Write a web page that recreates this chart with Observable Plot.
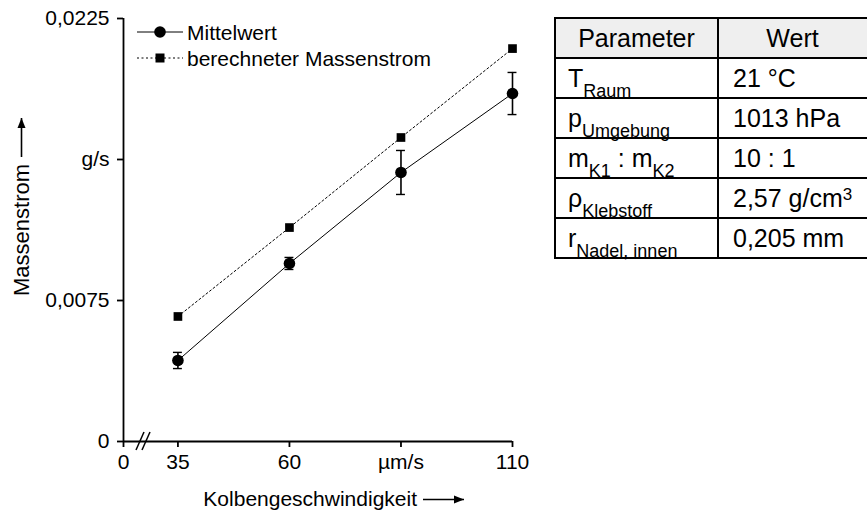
<!DOCTYPE html>
<html>
<head>
<meta charset="utf-8">
<script src="https://cdn.jsdelivr.net/npm/d3@7"></script>
<script src="https://cdn.jsdelivr.net/npm/@observablehq/plot@0.6"></script>
<style>
  html, body { margin: 0; padding: 0; background: #fff; }
  body { width: 867px; height: 515px; overflow: hidden; position: relative;
         font-family: "Liberation Sans", Arial, Helvetica, sans-serif; }
  #chart { position: absolute; left: 0; top: 0; }
  #params { position: absolute; left: 554px; top: 17px; border-collapse: collapse; width: 326px;
            font-size: 25px; color: #000; table-layout: fixed; }
  #params td, #params th { border: 2px solid #000; height: 38px; padding: 0 0 0 12px;
            font-weight: normal; text-align: left; white-space: nowrap; line-height: 38px; overflow: visible; }
  #params th { background: #efefef; text-align: center; padding: 0; }
  #params th.w { padding-right: 14px; }
  #params td.v { padding-left: 14px; }
  #params sub { font-size: 18px; position: relative; top: 4px; vertical-align: sub; line-height: 0; }
  #params sup { font-size: 17px; vertical-align: super; line-height: 0; position: relative; top: 2px; }
</style>
</head>
<body>
<div id="chart"></div>
<script>
// ---- data ----
const speeds    = [35, 60, 85, 110];                      // µm/s
const meanFlow  = [0.00431, 0.00947, 0.01431, 0.01851];   // g/s (Mittelwert)
const meanErr   = [0.00043, 0.00032, 0.00117, 0.00112];   // g/s (error)
const calcFlow  = [0.00665, 0.01138, 0.01617, 0.0209];    // g/s (berechneter Massenstrom)

const xTicks      = [22.8, 35, 60, 85, 110];
const xTickLabels = ["0", "35", "60", "µm/s", "110"];
const yTicks      = [0, 0.0075, 0.015, 0.0225];
const yTickLabels = ["0", "0,0075", "g/s", "0,0225"];

const seriesNames = ["Mittelwert", "berechneter Massenstrom"];
const xLabel = "Kolbengeschwindigkeit";
const yLabel = "Massenstrom";

const paramHeaders = ["Parameter", "Wert"];
const paramNames = ["T<sub>Raum</sub>", "p<sub>Umgebung</sub>", "m<sub>K1</sub> : m<sub>K2</sub>",
                    "ρ<sub>Klebstoff</sub>", "r<sub>Nadel, innen</sub>"];
const paramValues = ["21 °C", "1013 hPa", "10 : 1", "2,57 g/cm<sup>3</sup>", "0,205 mm"];

// ---- rows ----
const mean = speeds.map((x, i) => ({x, y: meanFlow[i], lo: meanFlow[i] - meanErr[i], hi: meanFlow[i] + meanErr[i]}));
const calc = speeds.map((x, i) => ({x, y: calcFlow[i]}));

const xMin = xTicks[0], xMax = xTicks[xTicks.length - 1];
const yMax = yTicks[yTicks.length - 1];
const axisW = 1.8;
const FS = 21;

const plot = Plot.plot({
  width: 540,
  height: 515,
  marginLeft: 123,
  marginRight: 28,
  marginTop: 18,
  marginBottom: 74,
  style: {fontFamily: "'Liberation Sans', Arial, sans-serif", fontSize: FS + "px", color: "#000", background: "#fff"},
  x: {domain: [xMin, xMax]},
  y: {domain: [0, yMax]},
  marks: [
    Plot.axisX({ticks: xTicks, tickFormat: (d, i) => xTickLabels[i], tickSize: 6, tickPadding: 7,
                strokeWidth: axisW, fontSize: FS, label: null}),
    Plot.axisY({ticks: yTicks, tickFormat: (d, i) => yTickLabels[i], tickSize: 6, tickPadding: 8,
                strokeWidth: axisW, fontSize: FS, label: null}),
    Plot.ruleX([xMin], {y1: 0, y2: yMax, stroke: "#000", strokeWidth: axisW}),
    Plot.ruleY([0], {x1: xMin, x2: xMax, stroke: "#000", strokeWidth: axisW}),
    // calculated
    Plot.line(calc, {x: "x", y: "y", stroke: "#000", strokeWidth: 1, strokeDasharray: "2,2.5"}),
    Plot.dot(calc, {x: "x", y: "y", symbol: "square", r: 4.9, fill: "#000", stroke: "none"}),
    // mean with error bars
    Plot.ruleX(mean, {x: "x", y1: "lo", y2: "hi", stroke: "#000", strokeWidth: 1.6}),
    Plot.ruleY(mean, {y: "lo", x1: d => d.x - 1, x2: d => d.x + 1, stroke: "#000", strokeWidth: 1.4}),
    Plot.ruleY(mean, {y: "hi", x1: d => d.x - 1, x2: d => d.x + 1, stroke: "#000", strokeWidth: 1.4}),
    Plot.line(mean, {x: "x", y: "y", stroke: "#000", strokeWidth: 1}),
    Plot.dot(mean, {x: "x", y: "y", r: 5.8, fill: "#000", stroke: "none"})
  ]
});

document.getElementById("chart").appendChild(plot);

// ---- decorations: axis break, axis titles with arrows, legend ----
const sx = plot.scale("x"), sy = plot.scale("y");
const svg = d3.select(plot);
const X = v => sx.apply(v), Y = v => sy.apply(v);
const y0 = Y(0);

// axis break "//"
[X(xMin) + 17, X(xMin) + 23].forEach(cx => {
  svg.append("line").attr("x1", cx - 4).attr("y1", y0 + 9).attr("x2", cx + 4).attr("y2", y0 - 9)
    .attr("stroke", "#000").attr("stroke-width", 1.5);
});

const defs = svg.append("defs");
defs.append("marker").attr("id", "ah").attr("viewBox", "0 0 10 10").attr("refX", 10).attr("refY", 5)
  .attr("markerWidth", 10).attr("markerHeight", 10).attr("markerUnits", "userSpaceOnUse")
  .attr("orient", "auto")
  .append("path").attr("d", "M0,1 L10,5 L0,9 Z").attr("fill", "#000");

// x title
svg.append("text").attr("x", 417).attr("y", 506).attr("text-anchor", "end")
  .attr("font-size", FS).attr("fill", "#000").text(xLabel);
svg.append("line").attr("x1", 423).attr("y1", 499.5).attr("x2", 464).attr("y2", 499.5)
  .attr("stroke", "#000").attr("stroke-width", 1.6).attr("marker-end", "url(#ah)");

// y title
svg.append("text").attr("transform", "translate(29,296) rotate(-90)").attr("text-anchor", "start")
  .attr("font-size", 22).attr("fill", "#000").text(yLabel);
svg.append("line").attr("x1", 21.5).attr("y1", 157).attr("x2", 21.5).attr("y2", 118)
  .attr("stroke", "#000").attr("stroke-width", 1.6).attr("marker-end", "url(#ah)");

// legend
const lg = svg.append("g").attr("text-anchor", "start");
const rows = [32, 58];
lg.append("line").attr("x1", 137).attr("x2", 183).attr("y1", rows[0]).attr("y2", rows[0]).attr("stroke", "#000");
lg.append("circle").attr("cx", 160).attr("cy", rows[0]).attr("r", 5.8).attr("fill", "#000");
lg.append("line").attr("x1", 137).attr("x2", 183).attr("y1", rows[1]).attr("y2", rows[1]).attr("stroke", "#000")
  .attr("stroke-dasharray", "2,2.5");
lg.append("rect").attr("x", 155.5).attr("y", rows[1] - 4.5).attr("width", 9).attr("height", 9).attr("fill", "#000");
seriesNames.forEach((s, i) => {
  lg.append("text").attr("x", 187).attr("y", rows[i]).attr("dy", "0.36em").attr("font-size", FS)
    .attr("text-anchor", "start").attr("fill", "#000").text(s);
});

// ---- parameter table ----
const tbl = document.createElement("table");
tbl.id = "params";
let html = "<colgroup><col style='width:163px'><col style='width:163px'></colgroup>";
html += "<tr>" + paramHeaders.map((h, i) => `<th class="${i ? "w" : ""}">${h}</th>`).join("") + "</tr>";
paramNames.forEach((p, i) => { html += `<tr><td>${p}</td><td class="v">${paramValues[i]}</td></tr>`; });
tbl.innerHTML = html;
document.body.appendChild(tbl);
</script>
</body>
</html>
